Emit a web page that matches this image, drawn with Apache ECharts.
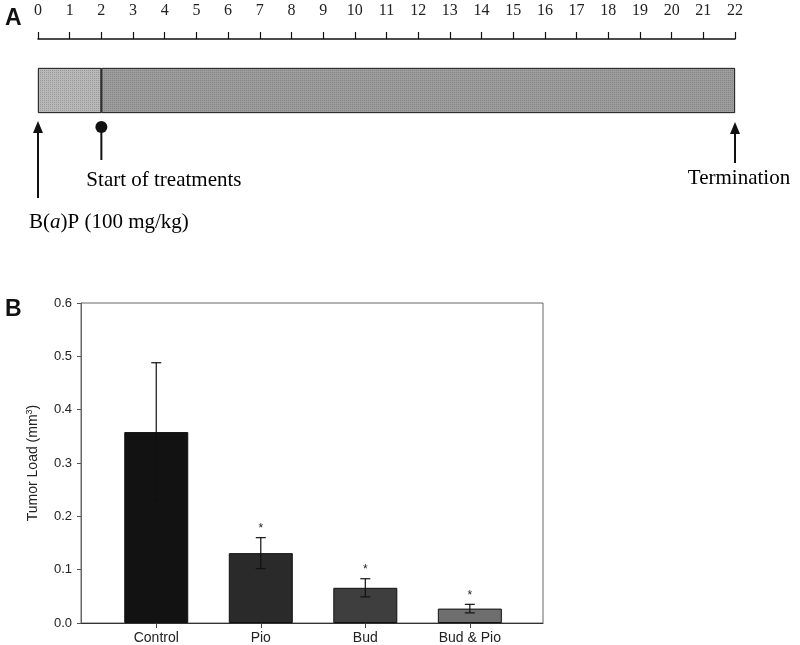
<!DOCTYPE html>
<html>
<head>
<meta charset="utf-8">
<script src="https://cdn.jsdelivr.net/npm/echarts@6/dist/echarts.min.js"></script>
<style>
  html, body { margin: 0; padding: 0; background: #fff; }
  #main { width: 800px; height: 645px; }
</style>
</head>
<body>
<div id="main"></div>
<script>
// 时间轴 (A)
var phaseNames = ['B(a)P', 'Treatments'];
var phaseStart = [0, 2];
var phaseEnd = [2, 22];
var eventDays = [0, 2, 22];
var eventLabels = ['{n|B(}{i|a}{n|)P (100 mg/kg)}', '{n|Start of treatments}', '{n|Termination}'];
var eventMarkers = ['arrow', 'dot', 'arrow'];

// 柱状图 (B)
var groups = ['Control', 'Pio', 'Bud', 'Bud & Pio'];
var tumorLoad = [0.358, 0.131, 0.066, 0.027];
var tumorErr = [0.130, 0.029, 0.017, 0.008];
var significant = [false, true, true, true];

var barColors = ['#121212', '#2a2a2a', '#3e3e3e', '#6e6e6e'];
var phaseColors = ['#b9b9b9', '#9d9d9d'];

// 每个事件的标注排版 (像素偏移, 相对于时间条底部)
var eventLayout = [
    {tip: 8, end: 85, textX: -9, textY: 109, align: 'left'},
    {tip: 14, end: 47, textX: -15, textY: 67, align: 'left'},
    {tip: 9, end: 50, textX: 4, textY: 65, align: 'center'}
];

var serif = '"Liberation Serif", "Times New Roman", serif';
var sans = '"Liberation Sans", Arial, sans-serif';

var chart = echarts.init(document.getElementById('main'));

var phaseSeries = phaseNames.map(function (name, i) {
    return {
        name: name,
        type: 'bar',
        stack: 'timeline',
        xAxisIndex: 0,
        yAxisIndex: 0,
        barWidth: '100%',
        silent: true,
        itemStyle: {
            color: phaseColors[i],
            borderColor: '#222',
            borderWidth: 0.8,
            decal: {
                symbol: 'rect',
                symbolSize: 1,
                dashArrayX: [1, 1],
                dashArrayY: [1, 1],
                color: 'rgba(40,40,40,0.22)'
            }
        },
        data: [phaseEnd[i] - phaseStart[i]]
    };
});

var eventData = eventDays.map(function (d, i) {
    return [d, 0, i];
});

function renderEvent(params, api) {
    var idx = api.value(2);
    var pt = api.coord([api.value(0), 0]);
    var band = api.size([0, 1])[1];
    var x = pt[0];
    var base = pt[1] + band / 2;
    var lay = eventLayout[idx];
    var children = [];
    if (eventMarkers[idx] === 'arrow') {
        children.push({
            type: 'polygon',
            shape: {points: [[x, base + lay.tip], [x - 5, base + lay.tip + 12], [x + 5, base + lay.tip + 12]]},
            style: {fill: '#111'}
        });
        children.push({
            type: 'line',
            shape: {x1: x, y1: base + lay.tip + 10, x2: x, y2: base + lay.end},
            style: {stroke: '#111', lineWidth: 2}
        });
    } else {
        children.push({
            type: 'line',
            shape: {x1: x, y1: base + lay.tip, x2: x, y2: base + lay.end},
            style: {stroke: '#111', lineWidth: 2}
        });
        children.push({
            type: 'circle',
            shape: {cx: x, cy: base + lay.tip, r: 6},
            style: {fill: '#111'}
        });
    }
    children.push({
        type: 'text',
        x: x + lay.textX,
        y: base + lay.textY,
        style: {
            text: eventLabels[idx],
            align: lay.align,
            verticalAlign: 'middle',
            rich: {
                n: {fontFamily: serif, fontSize: 21, color: '#1a1a1a'},
                i: {fontFamily: serif, fontSize: 21, fontStyle: 'italic', color: '#1a1a1a'}
            }
        }
    });
    return {type: 'group', children: children};
}

var barData = tumorLoad.map(function (v, i) {
    return {value: [i, v], itemStyle: {color: barColors[i]}};
});

var errData = tumorLoad.map(function (v, i) {
    return [i, v - tumorErr[i], v + tumorErr[i], significant[i] ? 1 : 0];
});

function renderErr(params, api) {
    var lo = api.coord([api.value(0), api.value(1)]);
    var hi = api.coord([api.value(0), api.value(2)]);
    var cap = 5;
    var children = [
        {type: 'line', shape: {x1: hi[0], y1: hi[1], x2: lo[0], y2: lo[1]}, style: {stroke: '#111', lineWidth: 1.2}},
        {type: 'line', shape: {x1: hi[0] - cap, y1: hi[1], x2: hi[0] + cap, y2: hi[1]}, style: {stroke: '#111', lineWidth: 1.2}},
        {type: 'line', shape: {x1: lo[0] - cap, y1: lo[1], x2: lo[0] + cap, y2: lo[1]}, style: {stroke: '#111', lineWidth: 1.2}}
    ];
    if (api.value(3)) {
        children.push({
            type: 'text',
            x: hi[0],
            y: hi[1] - 9,
            style: {text: '*', align: 'center', verticalAlign: 'middle', fontFamily: sans, fontSize: 12, fill: '#222'}
        });
    }
    return {type: 'group', children: children};
}

var option = {
    backgroundColor: '#fff',
    animation: false,
    title: [
        {text: 'A', left: 0, top: 2, textStyle: {fontFamily: sans, fontSize: 23, fontWeight: 'bold', color: '#111'}},
        {text: 'B', left: 0, top: 293, textStyle: {fontFamily: sans, fontSize: 23, fontWeight: 'bold', color: '#111'}}
    ],
    grid: [
        {left: 38, right: 65, top: 68, height: 45},
        {left: 81, right: 257, top: 303, bottom: 22, show: true, borderColor: '#666', borderWidth: 1}
    ],
    xAxis: [
        {
            gridIndex: 0,
            type: 'value',
            min: 0,
            max: 22,
            interval: 1,
            position: 'top',
            offset: 29,
            axisLine: {show: true, lineStyle: {color: '#111', width: 1.5}},
            axisTick: {show: true, length: 7, lineStyle: {color: '#111', width: 1.2}},
            splitLine: {show: false},
            axisLabel: {margin: 20, fontFamily: serif, fontSize: 16, color: '#222'}
        },
        {
            gridIndex: 1,
            type: 'value',
            min: -0.72,
            max: 3.70,
            axisLine: {show: true, onZero: false, lineStyle: {color: '#333', width: 1}},
            axisTick: {show: true, length: 5, customValues: [0, 1, 2, 3], lineStyle: {color: '#444'}},
            splitLine: {show: false},
            axisLabel: {
                customValues: [0, 1, 2, 3],
                margin: 8,
                fontFamily: sans,
                fontSize: 14,
                color: '#222',
                formatter: function (v) { return groups[Math.round(v)]; }
            }
        }
    ],
    yAxis: [
        {gridIndex: 0, type: 'category', data: ['timeline'], show: false},
        {
            gridIndex: 1,
            type: 'value',
            min: 0,
            max: 0.6,
            interval: 0.1,
            axisLine: {show: true, onZero: false, lineStyle: {color: '#666'}},
            axisTick: {show: true, length: 4, lineStyle: {color: '#555'}},
            splitLine: {show: false},
            axisLabel: {
                margin: 9,
                fontFamily: sans,
                fontSize: 13,
                color: '#222',
                formatter: function (v) { return v.toFixed(1); }
            },
            name: '{a|Tumor Load (mm}{s|3}{a|)}',
            nameLocation: 'middle',
            nameGap: 39,
            nameRotate: 90,
            nameTextStyle: {
                rich: {
                    a: {fontFamily: sans, fontSize: 14, color: '#222'},
                    s: {fontFamily: sans, fontSize: 9, color: '#222', verticalAlign: 'top', padding: [0, 0, 8, 0]}
                }
            }
        }
    ],
    series: phaseSeries.concat([
        {
            type: 'custom',
            xAxisIndex: 0,
            yAxisIndex: 0,
            renderItem: renderEvent,
            data: eventData,
            silent: true,
            z: 5
        },
        {
            type: 'bar',
            xAxisIndex: 1,
            yAxisIndex: 1,
            barWidth: 64,
            itemStyle: {borderColor: '#111', borderWidth: 1},
            data: barData
        },
        {
            type: 'custom',
            xAxisIndex: 1,
            yAxisIndex: 1,
            renderItem: renderErr,
            data: errData,
            z: 5
        }
    ])
};

chart.setOption(option);
</script>
</body>
</html>
